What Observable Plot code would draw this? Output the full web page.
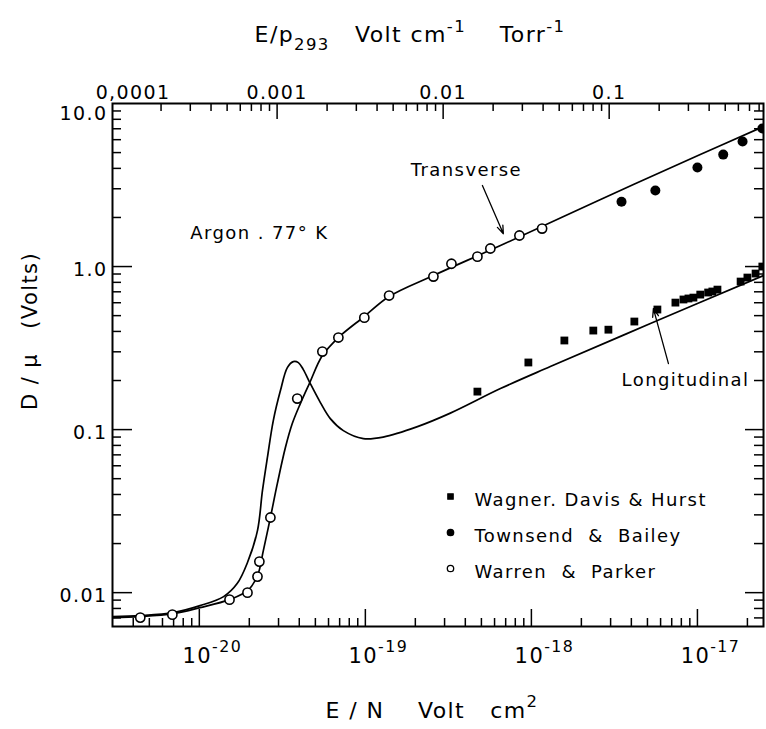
<!DOCTYPE html>
<html><head><meta charset="utf-8">
<script src="https://cdn.jsdelivr.net/npm/d3@7"></script>
<script src="https://cdn.jsdelivr.net/npm/@observablehq/plot@0.6"></script>
<style>
html,body{margin:0;padding:0;background:#fff;}
#chart svg text{letter-spacing:1.4px;}
</style></head><body><div id="chart"></div>
<script>
// ---------------- data (E/N in V cm^2, D/mu in volts) ----------------
const warrenParkerEN = [4.41e-21, 6.88e-21, 1.52e-20, 1.95e-20, 2.24e-20, 2.30e-20, 2.68e-20, 3.89e-20, 5.51e-20, 6.88e-20, 9.86e-20, 1.39e-19, 2.57e-19, 3.30e-19, 4.73e-19, 5.66e-19, 8.47e-19, 1.16e-18];
const warrenParkerD  = [0.00703, 0.00733, 0.00906, 0.0100, 0.01254, 0.0155, 0.0289, 0.155, 0.301, 0.367, 0.486, 0.664, 0.868, 1.04, 1.15, 1.29, 1.55, 1.71];

const townsendBaileyEN = [3.49e-18, 5.58e-18, 1.0e-17, 1.43e-17, 1.87e-17, 2.46e-17];
const townsendBaileyD  = [2.50, 2.93, 4.05, 4.86, 5.85, 7.02];

const wagnerEN = [4.73e-19, 9.59e-19, 1.58e-18, 2.36e-18, 2.91e-18, 4.17e-18, 5.74e-18, 7.37e-18, 8.24e-18, 8.83e-18, 9.46e-18, 1.04e-17, 1.16e-17, 1.23e-17, 1.32e-17, 1.82e-17, 2.00e-17, 2.24e-17, 2.46e-17];
const wagnerD  = [0.171, 0.258, 0.352, 0.405, 0.410, 0.460, 0.545, 0.601, 0.628, 0.637, 0.645, 0.673, 0.693, 0.703, 0.722, 0.809, 0.856, 0.906, 1.0];

const transverseEN = [3.0e-21, 4.41e-21, 6.97e-21, 1.01e-20, 1.52e-20, 1.95e-20, 2.24e-20, 2.43e-20, 2.68e-20, 2.95e-20, 3.30e-20, 3.63e-20, 4.06e-20, 4.60e-20, 5.51e-20, 6.88e-20, 9.86e-20, 1.39e-19, 2.57e-19, 6.51e-19, 2.61e-18, 1.04e-17, 2.50e-17];
const transverseD  = [0.00703, 0.00713, 0.00743, 0.00809, 0.00906, 0.01028, 0.01271, 0.01811, 0.0289, 0.0466, 0.0776, 0.1089, 0.1444, 0.1915, 0.2844, 0.367, 0.494, 0.655, 0.881, 1.345, 2.58, 4.86, 7.22];

const longitudinalEN = [3.0e-21, 4.41e-21, 6.97e-21, 1.01e-20, 1.40e-20, 1.69e-20, 1.95e-20, 2.24e-20, 2.40e-20, 2.57e-20, 2.79e-20, 3.08e-20, 3.39e-20, 3.68e-20, 3.95e-20, 4.23e-20, 4.66e-20, 5.36e-20, 6.15e-20, 7.37e-20, 9.72e-20, 1.28e-19, 2.06e-19, 3.25e-19, 6.51e-19, 1.30e-18, 5.21e-18, 2.50e-17];
const longitudinalD  = [0.00713, 0.00723, 0.00754, 0.00832, 0.00945, 0.01136, 0.0153, 0.0240, 0.0422, 0.0673, 0.1136, 0.1735, 0.240, 0.2612, 0.2576, 0.2334, 0.1915, 0.1465, 0.1168, 0.0986, 0.0881, 0.0900, 0.1043, 0.1262, 0.1785, 0.2435, 0.447, 0.881];

// axis ticks and labels
const xTickValues = [1e-20, 1e-19, 1e-18, 1e-17];
const xTickLabels = ["10^{-20}", "10^{-19}", "10^{-18}", "10^{-17}"];
const yTickValues = [10, 1, 0.1, 0.01];
const yTickLabels = ["10.0", "1.0", "0.1", "0.01"];
const topTickValues = [0.0001, 0.001, 0.01, 0.1];          // E/p293, V cm^-1 Torr^-1
const topTickLabels = ["0,0001", "0.001", "0.01", "0.1"];
const N293 = 3.4e16;   // molecules cm^-3 Torr^-1 (E/p -> E/N conversion)

const legendItems = [
  {label: "Wagner. Davis & Hurst", symbol: "square", fill: "black", r: 3},
  {label: "Townsend\u00a0\u00a0&\u00a0\u00a0Bailey", symbol: "circle", fill: "black", r: 3.2},
  {label: "Warren\u00a0\u00a0&\u00a0\u00a0Parker", symbol: "circle", fill: "white", r: 3.2}
];
const notesMiddle = [
  {text: "Transverse", en: 4.06e-19, d: 3.88},
  {text: "Longitudinal", en: 8.47e-18, d: 0.200}
];
const notesStart = [
  {text: "Argon . 77° K", en: 8.83e-21, d: 1.59}
];
const arrows = [
  {x1: 5.07e-19, y1: 3.14, x2: 6.78e-19, y2: 1.59},
  {x1: 6.69e-18, y1: 0.254, x2: 5.43e-18, y2: 0.552}
];

// ---------------- build ----------------
const zip = (xs, ys) => xs.map((x, i) => ({x, y: ys[i]}));
const wp = zip(warrenParkerEN, warrenParkerD);
const tb = zip(townsendBaileyEN, townsendBaileyD);
const wd = zip(wagnerEN, wagnerD);
const tr = zip(transverseEN, transverseD);
const lo = zip(longitudinalEN, longitudinalD);

const W = 766, H = 729, ML = 112, MR = 3, MT = 103, MB = 103;
const FW = W - ML - MR, FH = H - MT - MB;
const xDomain = [3e-21, 2.5e-17], yDomain = [0.0062, 10];

function minors(decades, lo, hi) {
  const out = [];
  for (const d of decades) for (let k = 2; k <= 9; k++) {
    const v = k * d;
    if (v > lo * 1.01 && v < hi * 0.99) out.push(v);
  }
  return out;
}
const xMinor = minors([1e-21, 1e-20, 1e-19, 1e-18, 1e-17], ...xDomain);
const yMinor = minors([0.001, 0.01, 0.1, 1], ...yDomain);
const topMinorEp = minors([1e-4, 1e-3, 1e-2, 1e-1], xDomain[0] * N293, xDomain[1] * N293);
const topMajorEN = topTickValues.map(v => v / N293);
const topMinorEN = topMinorEp.map(v => v / N293);

const sw = 1.5;
const NB = "\u00a0";
const marks = [
  // ticks (inward)
  Plot.ruleX(xTickValues, {x: d => d, insetTop: FH - 17, strokeWidth: sw}),
  Plot.ruleX(xMinor, {x: d => d, insetTop: FH - 8, strokeWidth: sw}),
  Plot.ruleX(topMajorEN.filter(v => v > xDomain[0] * 1.01), {x: d => d, insetBottom: FH - 16, strokeWidth: sw}),
  Plot.ruleX(topMinorEN, {x: d => d, insetBottom: FH - 8, strokeWidth: sw}),
  Plot.ruleY(yTickValues.filter(v => v < 9.9), {y: d => d, insetRight: FW - 20, strokeWidth: sw}),
  Plot.ruleY(yMinor, {y: d => d, insetRight: FW - 9, strokeWidth: sw}),
  Plot.ruleY(yTickValues.filter(v => v < 9.9), {y: d => d, insetLeft: FW - 18, strokeWidth: sw}),
  Plot.ruleY(yMinor, {y: d => d, insetLeft: FW - 9, strokeWidth: sw}),
  Plot.frame({stroke: "black", strokeWidth: 2}),

  // curves
  Plot.line(tr, {x: "x", y: "y", curve: "catmull-rom", stroke: "black", strokeWidth: 1.7, clip: true}),
  Plot.line(lo, {x: "x", y: "y", curve: "catmull-rom", stroke: "black", strokeWidth: 1.7, clip: true}),

  // data points
  Plot.dot(wd, {x: "x", y: "y", symbol: "square", r: 4.4, fill: "black", stroke: "none", clip: true}),
  Plot.dot(tb, {x: "x", y: "y", symbol: "circle", r: 5, fill: "black", stroke: "none", clip: true}),
  Plot.dot(wp, {x: "x", y: "y", symbol: "circle", r: 4.6, fill: "white", stroke: "black", strokeWidth: 1.6, clip: true}),

  // annotations
  Plot.text(notesMiddle, {x: "en", y: "d", text: "text", textAnchor: "middle", fontSize: 18}),
  Plot.text(notesStart, {x: "en", y: "d", text: "text", textAnchor: "start", fontSize: 18}),
  Plot.arrow(arrows, {x1: "x1", y1: "y1", x2: "x2", y2: "y2", stroke: "black", strokeWidth: 1.3, headLength: 10, headAngle: 40}),

  // tick labels
  Plot.text(xTickValues, {x: d => d, frameAnchor: "bottom", dy: 36, dx: 13, textAnchor: "middle", text: (d, i) => xTickLabels[i], fontSize: 21}),
  Plot.text(yTickValues.slice(1), {y: d => d, frameAnchor: "left", dx: -5, dy: 3, textAnchor: "end", text: (d, i) => yTickLabels[i + 1], fontSize: 19}),
  Plot.text(yTickValues.slice(0, 1), {y: d => d, frameAnchor: "left", dx: -5, dy: 10, textAnchor: "end", text: (d, i) => yTickLabels[i], fontSize: 19}),
  Plot.text(topMajorEN.slice(1), {x: d => d, frameAnchor: "top", dy: -18, textAnchor: "middle", text: (d, i) => topTickLabels[i + 1], fontSize: 19}),
  Plot.text(topMajorEN.slice(0, 1), {x: d => d, frameAnchor: "top", dy: -18, dx: 22, textAnchor: "middle", text: (d, i) => topTickLabels[i], fontSize: 19}),

  // axis titles
  Plot.text([`E / N${NB.repeat(4)}Volt${NB.repeat(3)}cm^{2}`], {frameAnchor: "bottom", dy: 91, dx: -6, textAnchor: "middle", fontSize: 22}),
  Plot.text([`E/p_{293}${NB.repeat(3)}Volt${NB}cm^{-1}${NB.repeat(4)}Torr^{-1}`], {frameAnchor: "top", dy: -77, dx: -28, textAnchor: "middle", fontSize: 22}),
  Plot.text([`D / \u03bc${NB.repeat(3)}(Volts)`], {frameAnchor: "left", dx: -82, dy: -34, rotate: -90, textAnchor: "middle", fontSize: 21}),

  // legend
  ...legendItems.flatMap((d, i) => [
    Plot.dot([d], {frameAnchor: "top-left", dx: 338, dy: 393 + i * 36, symbol: d.symbol, r: d.r, fill: d.fill, stroke: "black", strokeWidth: 1.3}),
    Plot.text([d], {frameAnchor: "top-left", dx: 362, dy: 390 + i * 36, text: "label", textAnchor: "start", fontSize: 18})
  ])
];

const chart = Plot.plot({
  width: W, height: H,
  marginLeft: ML, marginRight: MR, marginTop: MT, marginBottom: MB,
  x: {type: "log", domain: xDomain, axis: null},
  y: {type: "log", domain: yDomain, axis: null},
  style: {fontFamily: "DejaVu Sans", color: "black", background: "white", overflow: "visible"},
  marks
});
document.getElementById("chart").appendChild(chart);

// turn ^{..} and _{..} into real super/subscript tspans
function richify(svg) {
  for (const t of svg.querySelectorAll("text")) {
    const s = t.textContent;
    if (!/[\^_]\{/.test(s)) continue;
    const fs = parseFloat(getComputedStyle(t).fontSize) || 16;
    const parts = s.split(/([\^_]\{[^}]*\})/).filter(p => p);
    while (t.firstChild) t.removeChild(t.firstChild);
    let shift = 0;
    for (const p of parts) {
      const ts = document.createElementNS("http://www.w3.org/2000/svg", "tspan");
      let target = 0, txt = p, small = false;
      if (p.startsWith("^{")) { target = -0.48 * fs; txt = p.slice(2, -1); small = true; }
      else if (p.startsWith("_{")) { target = 0.38 * fs; txt = p.slice(2, -1); small = true; }
      if (target !== shift) ts.setAttribute("dy", (target - shift).toFixed(2));
      shift = target;
      if (small) ts.setAttribute("font-size", (0.75 * fs).toFixed(1));
      ts.textContent = txt;
      t.appendChild(ts);
    }
  }
}
richify(chart);
</script>
</body></html>
